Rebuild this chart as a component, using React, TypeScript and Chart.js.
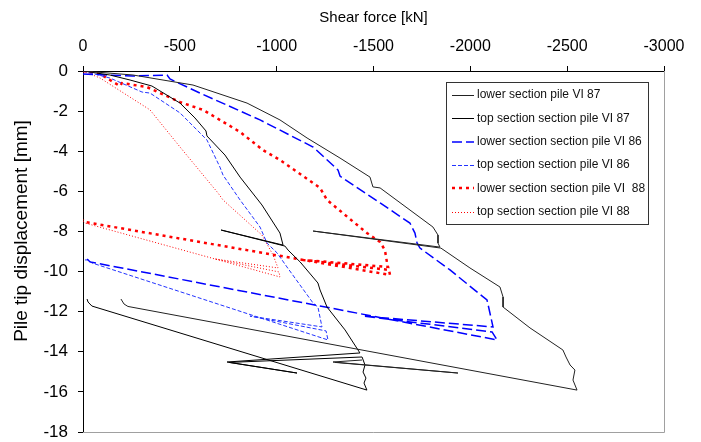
import React, { useEffect, useRef } from 'react';
import { Chart, registerables } from 'chart.js';

Chart.register(...registerables);

// Axis ticks
const forceTicks = [0, -500, -1000, -1500, -2000, -2500, -3000];
const dispTicks = [0, -2, -4, -6, -8, -10, -12, -14, -16, -18];

// Axis titles
const xTitle = 'Shear force [kN]';
const yTitle = 'Pile tip displacement [mm]';

// Series labels (legend order)
const seriesLabels = [
  'lower section pile VI 87',
  'top section section pile VI 87',
  'lower section section pile VI 86',
  'top section section pile VI 86',
  'lower section section pile VI  88',
  'top section section pile VI 88',
];

// Pile VI 87 - lower section (shear force kN, tip displacement mm)
const lower87Force = [0, -258, -568, -847, -1017, -1157, -1327, -1482, -1497, -1534, -1807, -1833, -1833, -1843, -1188, -1848, -1998, -2153, -2169, -2169, -2308, -2478, -2494, -2515, -2540, -2530, -2551, -232, -212, -196, null, -1441, -1291, -1936, -1301];
const lower87Disp = [0, -0.2, -0.7, -1.6, -2.44, -3.34, -4.34, -5.29, -5.78, -5.83, -7.78, -8.18, -8.58, -8.78, -7.98, -8.83, -9.82, -10.77, -11.27, -11.77, -12.81, -13.91, -14.26, -14.66, -14.91, -15.41, -15.91, -11.74, -11.62, -11.37, null, -14.41, -14.51, -15.06, -14.53];

// Pile VI 87 - top section
const top87Force = [0, -139, -243, -356, -501, -578, -635, -640, -733, -811, -924, -1017, -1033, -713, -1043, -1059, -1121, -1213, -1224, -1260, -1353, -1430, -744, -1105, -754, -1441, -1456, -1446, -1461, -1451, -1466, -46, -26, -21];
const top87Disp = [0, -0.2, -0.45, -0.75, -1.6, -2.34, -2.99, -3.24, -4.19, -5.29, -6.68, -8.08, -8.68, -7.93, -8.73, -8.93, -9.52, -10.57, -10.92, -11.77, -12.91, -14.06, -14.51, -15.06, -14.53, -14.26, -14.66, -15.01, -15.31, -15.56, -15.91, -11.72, -11.52, -11.37];

// Pile VI 86 - lower section
const lower86Force = [0, -258, -434, -449, -604, -914, -1188, -1317, -1327, -1534, -1688, -1714, -1725, -1740, -1895, -2086, -2091, -2117, -1446, -2112, -2138, -36, -21, -10];
const lower86Disp = [-0.15, -0.25, -0.2, -0.4, -1.1, -2.44, -3.79, -4.94, -5.24, -6.58, -7.58, -8.08, -8.58, -8.83, -9.92, -11.42, -11.62, -12.76, -12.22, -13.01, -13.41, -9.52, -9.37, -9.47];

// Pile VI 86 - top section
const top86Force = [0, -139, -305, -346, -501, -640, -707, -723, -811, -914, -950, -1002, -1053, -1188, -1213, -1234, -862, -1255, -1265, -46, -26, -10];
const top86Disp = [0, -0.35, -1.05, -1.1, -2.09, -3.44, -4.79, -5.19, -6.43, -7.78, -8.58, -9.07, -9.77, -11.57, -11.77, -12.76, -12.22, -12.96, -13.41, -9.57, -9.42, -9.42];

// Pile VI 88 - lower section
const lower88Force = [0, -88, -191, -201, -330, -501, -620, -811, -929, -1017, -1224, -1260, -1466, -1534, -1559, -1570, -1575, -1136, -1580, -1585, -10, 0];
const lower88Disp = [0, -0.15, -0.75, -0.6, -0.8, -1.55, -1.94, -3.04, -3.94, -4.44, -5.83, -6.43, -8.08, -8.53, -8.93, -9.57, -9.77, -9.42, -9.92, -10.17, -7.53, -7.43];

// Pile VI 88 - top section
const top88Force = [0, -88, -330, -346, -501, -671, -697, -723, -924, -981, -1007, -680, -1012, -1017, -10, 0];
const top88Disp = [0, -0.35, -1.84, -1.94, -3.79, -5.78, -6.08, -6.43, -8.18, -9.17, -9.82, -9.37, -10.02, -10.27, -7.58, -7.48];

const FONT = '"Liberation Sans", Arial, Helvetica, sans-serif';

function toPoints(xs: (number | null)[], ys: (number | null)[]) {
  return xs.map((x, i) => ({ x, y: ys[i] }));
}

const frameAndLegend = {
  id: 'frameAndLegend',
  beforeDatasetsDraw(chart: any) {
    const { ctx, chartArea } = chart;
    ctx.save();
    ctx.strokeStyle = '#a0a0a0';
    ctx.lineWidth = 1;
    const r = Math.round(chartArea.right) + 0.5;
    const b = Math.round(chartArea.bottom) + 0.5;
    ctx.beginPath();
    ctx.moveTo(r, chartArea.top);
    ctx.lineTo(r, b);
    ctx.lineTo(chartArea.left, b);
    ctx.stroke();
    ctx.restore();
  },
  afterDraw(chart: any) {
    const { ctx } = chart;
    ctx.save();
    // y-axis title
    ctx.translate(22, 231);
    ctx.rotate(-Math.PI / 2);
    ctx.fillStyle = '#000';
    ctx.font = '19px ' + FONT;
    ctx.textAlign = 'center';
    ctx.textBaseline = 'middle';
    ctx.fillText(yTitle, 0, 0);
    ctx.restore();

    const x0 = 446, y0 = 82, w = 202, h = 142;
    ctx.save();
    ctx.fillStyle = '#ffffff';
    ctx.fillRect(x0, y0, w, h);
    ctx.strokeStyle = '#333333';
    ctx.lineWidth = 1;
    ctx.strokeRect(x0 + 0.5, y0 + 0.5, w, h);
    chart.data.datasets.forEach((ds: any, i: number) => {
      const y = 95 + i * 23.3;
      ctx.beginPath();
      ctx.setLineDash(ds.borderDash || []);
      ctx.strokeStyle = ds.borderColor;
      ctx.lineWidth = ds.borderWidth;
      const ly = ds.borderWidth % 2 === 1 ? Math.round(y) + 0.5 : Math.round(y);
      ctx.moveTo(452, ly);
      ctx.lineTo(474, ly);
      ctx.stroke();
      ctx.setLineDash([]);
      ctx.fillStyle = '#111111';
      ctx.font = '12px ' + FONT;
      ctx.textBaseline = 'middle';
      ctx.textAlign = 'left';
      ctx.fillText(ds.label, 477, y);
    });
    ctx.restore();
  },
};

export default function App() {
  const canvasRef = useRef<HTMLCanvasElement | null>(null);

  useEffect(() => {
    if (!canvasRef.current) return;
    Chart.defaults.font.family = FONT;
    const chart = new Chart(canvasRef.current, {
      type: 'scatter',
      data: {
        datasets: [
          { label: seriesLabels[0], data: toPoints(lower87Force, lower87Disp), borderColor: '#222222', borderWidth: 1, borderDash: [] },
          { label: seriesLabels[1], data: toPoints(top87Force, top87Disp), borderColor: '#000000', borderWidth: 1, borderDash: [] },
          { label: seriesLabels[2], data: toPoints(lower86Force, lower86Disp), borderColor: '#0000ff', borderWidth: 1.5, borderDash: [10, 4] },
          { label: seriesLabels[3], data: toPoints(top86Force, top86Disp), borderColor: '#2233ff', borderWidth: 1, borderDash: [4, 2] },
          { label: seriesLabels[4], data: toPoints(lower88Force, lower88Disp), borderColor: '#ff0000', borderWidth: 2.5, borderDash: [3, 4] },
          { label: seriesLabels[5], data: toPoints(top88Force, top88Disp), borderColor: '#ff0000', borderWidth: 1, borderDash: [1, 2] },
        ].map((d) => ({ ...d, showLine: true, pointRadius: 0, pointHoverRadius: 0, fill: false, tension: 0, spanGaps: false })) as any,
      },
      options: {
        animation: false,
        responsive: false,
        maintainAspectRatio: false,
        events: [],
        layout: { padding: { left: 0, top: 0, right: 37, bottom: 10 } },
        plugins: { legend: { display: false }, tooltip: { enabled: false } },
        scales: {
          x: {
            type: 'linear',
            position: 'top',
            min: -3000,
            max: 0,
            reverse: true,
            afterFit: (s: any) => { s.height = 71; s.paddingLeft = 0; s.paddingRight = 0; },
            afterBuildTicks: (s: any) => { s.ticks = forceTicks.map((v) => ({ value: v })); },
            ticks: { color: '#000', font: { size: 16 }, padding: 10, callback: (v: any) => String(v), maxRotation: 0, autoSkip: false },
            grid: { drawOnChartArea: false, drawTicks: true, tickLength: 5, color: '#000' },
            border: { display: true, color: '#000', width: 1 },
            title: { display: true, text: xTitle, color: '#000', font: { size: 15 }, padding: { top: 9, bottom: 0 } },
          },
          y: {
            type: 'linear',
            position: 'left',
            min: -18,
            max: 0,
            afterFit: (s: any) => { s.width = 83; s.paddingTop = 0; s.paddingBottom = 0; },
            afterBuildTicks: (s: any) => { s.ticks = dispTicks.map((v) => ({ value: v })); },
            ticks: { color: '#000', font: { size: 17 }, padding: 10, callback: (v: any) => String(v), autoSkip: false },
            grid: { drawOnChartArea: false, drawTicks: true, tickLength: 5, color: '#000' },
            border: { display: true, color: '#000', width: 1 },
            title: { display: false },
          },
        },
      } as any,
      plugins: [frameAndLegend],
    });
    return () => chart.destroy();
  }, []);

  return (
    <div style={{ position: 'fixed', left: 0, top: 0, width: 701, height: 442, overflow: 'hidden', background: '#fff' }}>
      <canvas ref={canvasRef} width={701} height={442} style={{ width: 701, height: 442, display: 'block' }} />
    </div>
  );
}
